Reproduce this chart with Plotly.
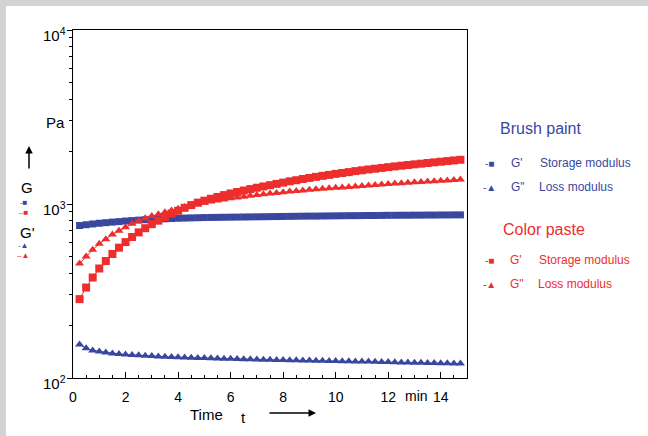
import math
import plotly.graph_objects as go

# ---------------- data ----------------
time_min = [0.25, 0.5, 0.75, 1.0, 1.25, 1.5, 1.75, 2.0, 2.25, 2.5, 2.75, 3.0, 3.25, 3.5, 3.75,
            4.0, 4.25, 4.5, 4.75, 5.0, 5.25, 5.5, 5.75, 6.0, 6.25, 6.5, 6.75, 7.0, 7.25, 7.5,
            7.75, 8.0, 8.25, 8.5, 8.75, 9.0, 9.25, 9.5, 9.75, 10.0, 10.25, 10.5, 10.75, 11.0,
            11.25, 11.5, 11.75, 12.0, 12.25, 12.5, 12.75, 13.0, 13.25, 13.5, 13.75, 14.0,
            14.25, 14.5, 14.75]

brush_storage = [752, 760, 768, 775, 781, 787, 792, 798, 803, 808, 812, 816, 819, 822, 825,
                 828, 830, 832, 834, 836, 837, 838, 839, 840, 841, 842, 843, 844, 845, 846,
                 847, 848, 849, 850, 851, 852, 852, 853, 854, 855, 856, 857, 857, 858,
                 859, 859, 860, 861, 861, 862, 862, 863, 863, 864, 864, 865, 865, 866, 866]

brush_loss = [156, 148, 144, 142, 140, 138.5, 137.5, 136.5, 135.7, 135, 134.3, 133.7, 133.1,
              132.6, 132.1, 131.7, 131.3, 130.9, 130.5, 130.2, 129.8, 129.5, 129.2, 128.9,
              128.6, 128.3, 128, 127.7, 127.4, 127.2, 127, 126.8, 126.6, 126.4, 126.2, 126,
              125.8, 125.6, 125.4, 125.2, 125, 124.8, 124.6, 124.4, 124.2, 124, 123.7, 123.4,
              123.1, 122.8, 122.6, 122.4, 122.2, 122, 121.8, 121.6, 121.4, 121.2, 121]

paste_storage = [284, 331, 378, 426, 470, 516, 561, 604, 646, 687, 726, 766, 802, 841, 881,
                 914, 951, 986, 1018, 1045, 1072, 1098, 1125, 1150, 1172, 1195, 1218, 1240,
                 1262, 1283, 1305, 1327, 1350, 1370, 1392, 1412, 1432, 1452, 1470, 1490,
                 1508, 1525, 1545, 1562, 1580, 1595, 1612, 1628, 1645, 1660, 1675, 1690,
                 1705, 1720, 1735, 1750, 1765, 1780, 1795]

paste_loss = [455, 500, 546, 590, 628, 668, 701, 735, 769, 802, 827, 853, 873, 897, 918,
              940, 960, 980, 998, 1015, 1032, 1048, 1063, 1078, 1090, 1102, 1114, 1126,
              1137, 1148, 1158, 1168, 1178, 1188, 1197, 1206, 1214, 1222, 1230, 1238,
              1246, 1254, 1262, 1270, 1278, 1286, 1294, 1302, 1310, 1318, 1325, 1332,
              1339, 1346, 1353, 1360, 1367, 1374, 1381]

x_ticks = [0, 2, 4, 6, 8, 10, 12, 14]
x_tick_labels = ["0", "2", "4", "6", "8", "10", "12", "14"]
y_ticks = [100, 1000, 10000]
y_tick_labels = ["10<sup>2</sup>", "10<sup>3</sup>", "10<sup>4</sup>"]

# ---------------- styling ----------------
BLUE = "#3a479f"
RED = "#ee2d2d"
FONT = "Liberation Sans, Arial, sans-serif"

W, H = 648, 436
L, R, T, B = 73, 467, 30, 378  # plot box in pixels


def xp(px):
    return (px - L) / (R - L)


def yp(py):
    return (B - py) / (B - T)


fig = go.Figure()

fig.add_trace(go.Scatter(x=time_min, y=brush_storage, mode="lines+markers",
                         line=dict(color=BLUE, width=1),
                         marker=dict(symbol="square", size=7, color=BLUE),
                         showlegend=False))
fig.add_trace(go.Scatter(x=time_min, y=brush_loss, mode="lines+markers",
                         line=dict(color=BLUE, width=1),
                         marker=dict(symbol="triangle-up", size=8, color=BLUE),
                         showlegend=False))
fig.add_trace(go.Scatter(x=time_min, y=paste_storage, mode="lines+markers",
                         line=dict(color=RED, width=1),
                         marker=dict(symbol="square", size=8, color=RED),
                         showlegend=False))
fig.add_trace(go.Scatter(x=time_min, y=paste_loss, mode="lines+markers",
                         line=dict(color=RED, width=1),
                         marker=dict(symbol="triangle-up", size=8, color=RED),
                         showlegend=False))

ann = []


def text(px, py, s, size=14, color="black", xanchor="center", yanchor="middle"):
    ann.append(dict(x=xp(px), y=yp(py), xref="paper", yref="paper", text=s,
                    showarrow=False, xanchor=xanchor, yanchor=yanchor,
                    font=dict(family=FONT, size=size, color=color)))


# y tick labels placed on the log axis (annotation y is log10 of the value)
for v, lab in zip(y_ticks, y_tick_labels):
    ann.append(dict(x=xp(68), y=math.log10(v), xref="paper", yref="y", text=lab,
                    showarrow=False, xanchor="right", yanchor="middle", yshift=-4,
                    font=dict(family=FONT, size=15, color="black")))

# left axis labels
text(67, 122, "Pa", 15, xanchor="right")
text(27, 188, "G", 15)
text(27, 232, "G'", 15)
text(23, 207, "<span style='color:%s'>-■</span><br><span style='color:%s'>–■</span>" % (BLUE, RED), 8)
text(23, 250, "<span style='color:%s'>-▲</span><br><span style='color:%s'>–▲</span>" % (BLUE, RED), 8)
# up arrow
ann.append(dict(x=xp(29), y=yp(146), xref="paper", yref="paper", showarrow=True,
                ax=0, ay=24, arrowhead=2, arrowsize=1, arrowwidth=1.5, arrowcolor="black",
                text=""))

# x axis texts
text(416, 396, "min", 14)
text(206, 414, "Time", 15)
text(243, 417, "t", 15)
ann.append(dict(x=xp(316), y=yp(413), xref="paper", yref="paper", showarrow=True,
                ax=-48, ay=0, arrowhead=2, arrowsize=1, arrowwidth=1.5, arrowcolor="black",
                text=""))

# right legend
text(498, 128, "Brush paint", 16, BLUE, xanchor="left")
text(490, 163, "-■", 10, BLUE)
text(509, 163, "G'", 12, BLUE, xanchor="left")
text(538, 163, "Storage modulus", 12, BLUE, xanchor="left")
text(490, 187, "-▲", 10, BLUE)
text(509, 187, "G\"", 12, BLUE, xanchor="left")
text(537, 187, "Loss modulus", 12, BLUE, xanchor="left")

text(501, 229, "Color paste", 16, RED, xanchor="left")
text(490, 260, "<span style='color:%s'>-</span><span style='color:%s'>■</span>" % (BLUE, RED), 10)
text(508, 260, "G'", 12, RED, xanchor="left")
text(537, 260, "Storage modulus", 12, RED, xanchor="left")
text(490, 284, "<span style='color:%s'>-</span><span style='color:%s'>▲</span>" % (BLUE, RED), 10)
text(508, 284, "G\"", 12, RED, xanchor="left")
text(536, 284, "Loss modulus", 12, RED, xanchor="left")

shapes = [
    dict(type="rect", xref="paper", yref="paper", x0=xp(0), x1=xp(W), y0=yp(0), y1=yp(6),
         fillcolor="#d1d3d4", line=dict(width=0), layer="below"),
    dict(type="rect", xref="paper", yref="paper", x0=xp(0), x1=xp(6), y0=yp(0), y1=yp(H),
         fillcolor="#d1d3d4", line=dict(width=0), layer="below"),
]

fig.update_layout(
    width=W, height=H,
    margin=dict(l=L, r=W - R, t=T, b=H - B, pad=0),
    paper_bgcolor="white", plot_bgcolor="white",
    font=dict(family=FONT, size=14, color="black"),
    annotations=ann, shapes=shapes,
    xaxis=dict(range=[0, 15], tickmode="array", tickvals=x_ticks, ticktext=x_tick_labels,
               ticks="inside", ticklen=6, tickwidth=1, tickcolor="black",
               ticklabelstandoff=6,
               showline=True, linecolor="black", linewidth=1, mirror=True,
               showgrid=False, zeroline=False, tickfont=dict(size=14),
               minor=dict(ticks="inside", ticklen=3, dtick=0.5, tickcolor="black", showgrid=False)),
    yaxis=dict(type="log", range=[2, 4], tickmode="linear", tick0=0, dtick=1,
               showticklabels=False,
               ticks="outside", ticklen=5, tickwidth=1, tickcolor="black",
               showline=True, linecolor="black", linewidth=1, mirror=True,
               showgrid=False, zeroline=False,
               minor=dict(ticks="outside", ticklen=3, dtick="D1", tickcolor="black", showgrid=False)),
)

fig.write_html("out.html", config={"displayModeBar": False},
               post_script="document.body.style.margin='0';document.body.style.overflow='hidden';")
